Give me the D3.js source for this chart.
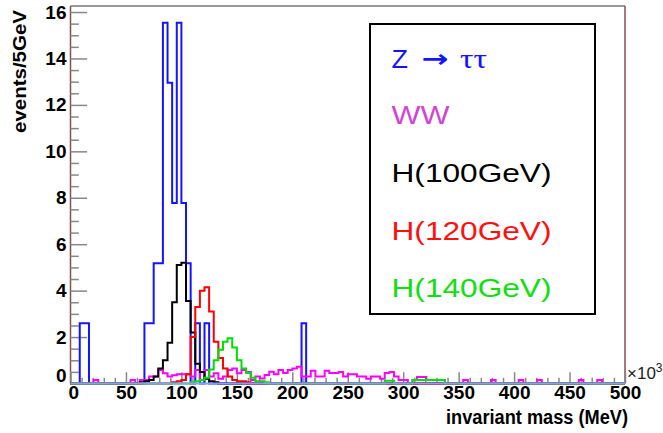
<!DOCTYPE html>
<html>
<head>
<meta charset="utf-8">
<script src="https://cdn.jsdelivr.net/npm/d3@7/dist/d3.min.js"></script>
<style>
  html, body { margin: 0; padding: 0; background: #fff; }
  svg { display: block; }
  .tick text { font-family: "Liberation Sans", Arial, Helvetica, sans-serif; font-weight: bold; font-size: 19px; fill: #000; }
</style>
</head>
<body>
<svg id="chart" width="663" height="433"></svg>
<script>
// Histogram binning: 120 bins spanning 0–500 (×10^3 MeV)
const xMin = 0, xMax = 500, nBins = 120;
const yMax = 16.26;
const xTicks = [0, 50, 100, 150, 200, 250, 300, 350, 400, 450, 500];
const yTicks = [0, 2, 4, 6, 8, 10, 12, 14, 16];

const seriesNames = ["Z \u2192 \u03c4\u03c4", "WW", "H(100GeV)", "H(120GeV)", "H(140GeV)"];

// Z -> tau tau, bin contents starting at bin 2
const zttFirstBin = 2;
const zttCounts = [
  2.59, 2.59, 0, 0, 0, 0, 0, 0, 0, 0, 0, 0, 0, 0,
  2.59, 2.59, 5.18, 5.18, 15.54, 12.95, 7.77, 15.54, 7.77, 5.18,
  0, 2.59, 0, 2.59,
  0, 0, 0, 0, 0, 0, 0, 0, 0, 0, 0, 0, 0, 0, 0, 0, 0, 0, 0, 0,
  2.59
];

// WW, bin contents starting at bin 5
const wwFirstBin = 5;
const wwCounts = [
  0.15, 0, 0, 0, 0, 0, 0, 0, 0.15, 0,
  0.15, 0.15, 0.3, 0.3, 0.58, 0.44, 0.3, 0.35, 0.4, 0.4,
  0.4, 0.3, 0.58, 0.15, 0.58, 0.3, 0.44, 0.2, 0.3, 0.58,
  0.65, 0.44, 0.58, 0.5, 0.15, 0.3, 0.22, 0.37, 0.51, 0.4,
  0.58, 0.45, 0.58, 0.65, 0.72, 0.3, 0.3, 0.55, 0.3, 0.3,
  0.55, 0.45, 0.45, 0.5, 0.3, 0.4, 0.4, 0.3, 0.3, 0.2,
  0.3, 0.3, 0.2, 0.45, 0.5, 0.3, 0.15, 0.15, 0, 0.15,
  0.28, 0.28, 0.15, 0.15, 0.15, 0.15, 0, 0, 0, 0,
  0.15, 0, 0, 0, 0, 0, 0.15, 0, 0, 0,
  0, 0, 0.15, 0, 0, 0, 0.15, 0, 0, 0,
  0, 0, 0, 0, 0, 0.15, 0, 0, 0, 0.15
];

// Higgs, m = 100 GeV, starting at bin 15
const h100FirstBin = 15;
const h100Counts = [0.05, 0.1, 0.15, 0.3, 0.65, 1.0, 1.75, 3.5, 5.1, 5.2, 3.55, 2.2, 0.85, 0.5, 0.2, 0.1, 0.05];

// Higgs, m = 120 GeV, starting at bin 22
const h120FirstBin = 22;
const h120Counts = [0.05, 0.1, 0.15, 0.4, 2.0, 3.3, 4.0, 4.15, 3.1, 1.8, 1.1, 0.65, 0.3, 0.15, 0.1, 0.1, 0.05];

// Higgs, m = 140 GeV, starting at bin 26
const h140FirstBin = 26;
const h140Counts = [
  0.05, 0.1, 0.15, 0.25, 0.6, 1.0, 1.45, 1.8, 1.95, 1.55, 1.0, 0.65, 0.45, 0.25, 0.1, 0.1, 0.05,
  0, 0, 0, 0, 0, 0, 0, 0, 0, 0, 0, 0, 0, 0, 0, 0, 0, 0, 0, 0, 0, 0, 0, 0, 0,
  0.12, 0.12, 0, 0, 0, 0, 0.15, 0.15, 0.15, 0.15, 0.15, 0.15, 0.15
];

const histColors = ["#1414ff", "#ff00ff", "#000000", "#ff0000", "#00e000"];
const legendColors = ["#1414ff", "#d444d4", "#000000", "#ff1010", "#10e010"];

const svg = d3.select("#chart");
const plotLeft = 70.5, plotRight = 625, plotTop = 6, plotBottom = 383.5;

const x = d3.scaleLinear().domain([xMin, xMax]).range([plotLeft, plotRight]);
const y = d3.scaleLinear().domain([0, yMax]).range([plotBottom, plotTop]);
const binW = (xMax - xMin) / nBins;

function fullBins(first, counts) {
  const arr = new Array(nBins).fill(0);
  counts.forEach((c, k) => { arr[first + k] = c; });
  return arr;
}
function stepPoints(arr) {
  const pts = [[xMin, 0]];
  arr.forEach((v, i) => pts.push([xMin + i * binW, v]));
  pts.push([xMax, arr[nBins - 1]]);
  pts.push([xMax, 0]);
  return pts;
}

const hists = [
  fullBins(zttFirstBin, zttCounts),
  fullBins(wwFirstBin, wwCounts),
  fullBins(h100FirstBin, h100Counts),
  fullBins(h120FirstBin, h120Counts),
  fullBins(h140FirstBin, h140Counts)
];

// frame
svg.append("line").attr("x1", plotLeft).attr("x2", plotRight).attr("y1", plotTop).attr("y2", plotTop)
  .attr("stroke", "#777").attr("stroke-width", 1.5);
svg.append("line").attr("x1", plotRight).attr("x2", plotRight).attr("y1", plotTop).attr("y2", plotBottom)
  .attr("stroke", "#8a4f4f").attr("stroke-width", 1.5);
svg.append("line").attr("x1", plotLeft).attr("x2", plotLeft).attr("y1", plotTop).attr("y2", plotBottom)
  .attr("stroke", "#8a4f4f").attr("stroke-width", 1.5);

// axes: ticks point inward
const tickColor = "#888";
const yMinor = d3.range(0, 16.01, 0.5).filter(v => v % 2 !== 0);
const xMinor = d3.range(0, 500.1, 10).filter(v => v % 50 !== 0);

const gyMinor = svg.append("g").attr("transform", `translate(${plotLeft},0)`)
  .call(d3.axisLeft(y).tickValues(yMinor).tickSize(-8.3).tickFormat(""));
const gy = svg.append("g").attr("transform", `translate(${plotLeft},0)`)
  .call(d3.axisLeft(y).tickValues(yTicks).tickSize(-16.6).tickPadding(4).tickFormat(d3.format("d")));
const gxMinor = svg.append("g").attr("transform", `translate(0,${plotBottom})`)
  .call(d3.axisBottom(x).tickValues(xMinor).tickSize(-5.7).tickFormat(""));
const gx = svg.append("g").attr("transform", `translate(0,${plotBottom})`)
  .call(d3.axisBottom(x).tickValues(xTicks).tickSize(-11.3).tickPadding(2).tickFormat(d3.format("d")));

[gyMinor, gy, gxMinor, gx].forEach(g => {
  g.select(".domain").remove();
  g.selectAll(".tick line").attr("stroke", tickColor).attr("stroke-width", 1.5);
});
gy.selectAll(".tick").filter(d => d === 0).select("text").attr("dy", "-0.1em");
gx.selectAll(".tick").filter(d => d === 0).select("text").attr("dx", "0.15em");

// histograms
const line = d3.line().x(d => x(d[0])).y(d => y(d[1])).curve(d3.curveStepAfter);
svg.append("g").selectAll("path").data(hists).join("path")
  .attr("d", d => line(stepPoints(d)))
  .attr("fill", "none")
  .attr("stroke", (d, i) => histColors[i])
  .attr("stroke-width", 2);

// zero-level line along the baseline
svg.append("line").attr("x1", plotLeft).attr("x2", plotRight).attr("y1", plotBottom).attr("y2", plotBottom)
  .attr("stroke", "#8c9cff").attr("stroke-width", 2);

// axis titles
const font = "'Liberation Sans', Arial, Helvetica, sans-serif";
svg.append("text").attr("x", 628).attr("y", 424).attr("text-anchor", "end")
  .attr("font-family", font).attr("font-weight", "bold").attr("font-size", 20)
  .attr("textLength", 182).attr("lengthAdjust", "spacingAndGlyphs")
  .text("invariant mass (MeV)");
svg.append("text").attr("transform", "translate(26,10) rotate(-90)").attr("text-anchor", "end")
  .attr("font-family", font).attr("font-weight", "bold").attr("font-size", 18)
  .attr("textLength", 123).attr("lengthAdjust", "spacingAndGlyphs")
  .text("events/5GeV");
const mult = svg.append("text").attr("x", 627).attr("y", 379)
  .attr("font-family", font).attr("font-size", 17).attr("fill", "#222");
mult.append("tspan").text("\u00d710");
mult.append("tspan").attr("dy", -7).attr("font-size", 12).text("3");

// legend
const lg = svg.append("g");
lg.append("rect").attr("x", 370).attr("y", 24).attr("width", 225).attr("height", 290)
  .attr("fill", "#fff").attr("stroke", "#000").attr("stroke-width", 2);
const legendX = 391.5;
const legendBase = [67.5, 124, 181.7, 239.5, 297];
const legendWidths = [null, 58, 160, 160, 160];

// first entry: Z, arrow, and tau pair
const zEntry = lg.append("g").attr("fill", legendColors[0]);
zEntry.append("text").attr("x", legendX).attr("y", legendBase[0])
  .attr("font-family", font).attr("font-size", 25)
  .attr("textLength", 16.5).attr("lengthAdjust", "spacingAndGlyphs").text("Z");
zEntry.append("text").attr("x", 421.5).attr("y", legendBase[0] - 1)
  .attr("font-family", "'DejaVu Sans', sans-serif").attr("font-weight", "bold").attr("font-size", 24)
  .attr("textLength", 27).attr("lengthAdjust", "spacingAndGlyphs").text("\u2192");
zEntry.append("text").attr("x", 460).attr("y", legendBase[0])
  .attr("font-family", "'Liberation Serif', 'Times New Roman', serif").attr("font-size", 27)
  .attr("textLength", 27).attr("lengthAdjust", "spacingAndGlyphs").text("\u03c4\u03c4");

seriesNames.slice(1).forEach((name, k) => {
  const i = k + 1;
  lg.append("text").attr("x", legendX).attr("y", legendBase[i])
    .attr("font-family", font).attr("font-size", 25).attr("fill", legendColors[i])
    .attr("textLength", legendWidths[i]).attr("lengthAdjust", "spacingAndGlyphs")
    .text(name);
});
</script>
</body>
</html>
